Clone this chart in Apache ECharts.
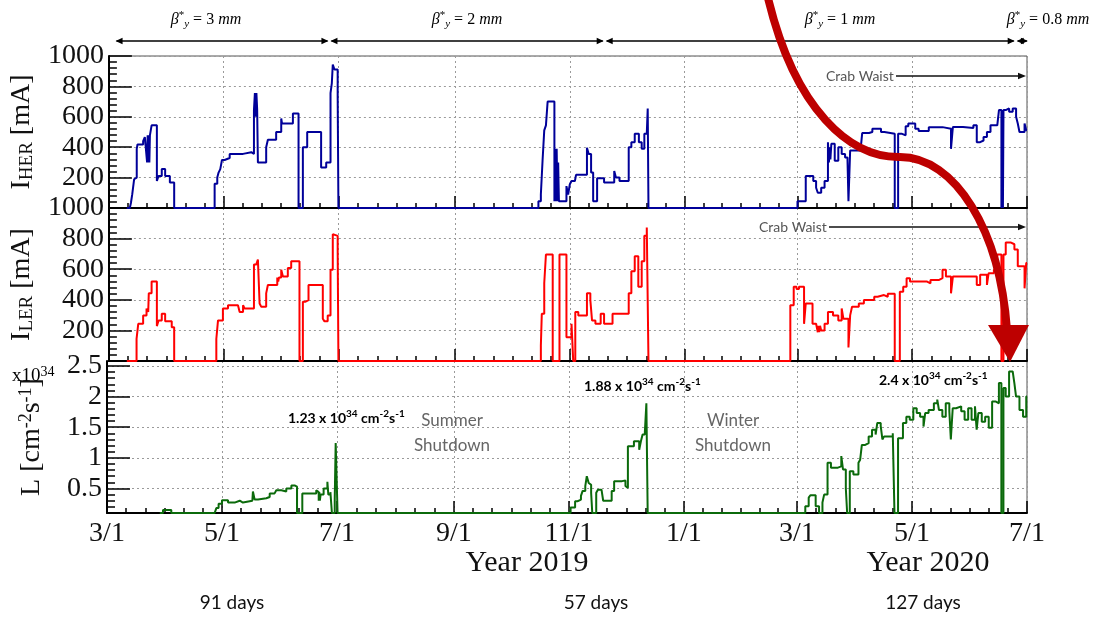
<!DOCTYPE html>
<html><head><meta charset="utf-8">
<script src="https://cdn.jsdelivr.net/npm/echarts@6/dist/echarts.min.js"></script>
<style>html,body{margin:0;padding:0;background:#fff}#c{width:1096px;height:621px}</style>
</head><body><div id="c"></div>
<script>
// ---------------- data (x = days since 2019-03-01) ----------------
const START_DATE = '2019-03-01';
const END_DATE = '2020-07-01';
const majorTickDates = ['2019-03-01','2019-05-01','2019-07-01','2019-09-01','2019-11-01','2020-01-01','2020-03-01','2020-05-01','2020-07-01'];
const lumTickValues = [0.5, 1, 1.5, 2, 2.5];
const LUM_MIN = 0.1, LUM_MAX = 2.58;

const herData = [
 [9.5,0],[11.1,0],[11.7,33],[12.4,89],[13.4,189],[13.9,200],[14.8,389],[15.2,418],[18.2,440],[19.1,467],[20.0,478],[20.3,300],[20.6,478],[20.9,300],[21.2,478],[21.5,300],[21.8,478],[22.7,544],[25.5,178],[26.4,211],[28.1,256],[29.9,211],[32.4,167],[34.7,0],
 [56.2,160],[57.6,200],[58.3,233],[59.2,256],[60.1,316],[61.5,329],[64.2,356],[71.3,367],[75.7,356],[77.1,644],[77.6,756],[78.0,600],[78.4,756],[78.8,650],[79.2,300],[83.6,400],[84.5,449],[88.9,500],[91.6,589],[92.0,556],[97.8,622],[100.8,0],[103.1,400],[105.4,500],[112.8,267],[115.5,300],[117.8,756],[118.5,822],[119.0,944],[119.9,911],[121.6,733],[122.0,0],
 [228.3,44],[229.6,89],[230.5,311],[231.4,511],[232.3,544],[233.2,700],[236.8,44],[237.2,389],[237.6,44],[238.0,389],[238.4,44],[238.8,300],[239.2,44],[243.2,144],[244.1,89],[245.0,156],[245.9,178],[247.7,189],[248.3,218],[254.1,396],[255.0,356],[256.3,233],[257.4,44],[259.5,196],[263.2,167],[268.6,244],[269.5,200],[271.4,178],[276.3,400],[277.7,433],[279.5,489],[281.7,433],[283.2,389],[284.6,489],[285.9,500],[286.4,655],[286.8,0],
 [366.0,44],[370.4,211],[374.4,178],[375.9,133],[376.8,100],[378.6,133],[380.4,178],[382.2,433],[382.7,300],[383.1,400],[383.5,320],[384.0,422],[385.8,311],[387.7,400],[389.5,356],[391.3,333],[392.6,311],[393.1,44],[394.0,378],[399.5,378],[400.4,493],[404.0,500],[405.8,522],[408.6,522],[410.4,500],[412.2,489],[417.7,0],[419.5,489],[421.3,478],[423.5,538],[424.9,556],[428.6,522],[430.4,507],[435.8,532],[443.1,522],[447.6,389],[448.6,533],[454.0,527],[459.5,544],[461.3,433],[463.1,444],[464.9,467],[466.7,500],[468.6,544],[472.2,556],[473.1,644],[474.4,0],[474.8,644],[475.2,0],[475.5,644],[476.7,655],[478.5,633],[480.4,655],[482.2,600],[483.1,556],[484.0,500],[486.7,556],[487.6,511],[488,511]
];

const lerData = [
 [9.5,0],[14.7,144],[15.6,243],[18.2,298],[20.0,343],[20.3,320],[20.6,343],[20.9,320],[21.2,442],[22.7,519],[25.5,228],[26.4,265],[28.1,309],[29.9,259],[33.4,221],[34.7,0],
 [57.1,144],[58.0,265],[60.6,343],[63.3,365],[68.6,354],[69.5,320],[71.3,365],[72.1,343],[77.1,630],[78.3,641],[79.2,663],[80.1,376],[81.0,354],[83.6,442],[84.5,497],[89.5,546],[90.0,520],[90.4,546],[91.6,597],[92.5,552],[95.1,608],[96.9,652],[101.3,0],[103.1,387],[104.3,398],[106.1,497],[113.7,276],[114.6,259],[116.3,298],[117.8,597],[119.0,829],[119.9,818],[121.6,718],[122.0,0],
 [229.6,100],[230.1,309],[231.4,508],[232.3,696],[235.9,0],[239.5,696],[243.2,155],[245.9,243],[246.8,0],[247.9,320],[249.5,298],[254.1,442],[255.9,398],[256.8,265],[258.6,243],[261.4,309],[263.2,243],[267.7,309],[276.3,442],[277.7,586],[279.5,685],[281.4,486],[283.2,652],[284.6,818],[285.9,873],[286.8,0],
 [362.2,365],[364.0,486],[365.5,470],[366.8,486],[369.5,243],[370.4,376],[374.0,243],[375.9,232],[376.8,188],[377.2,230],[377.6,188],[378.0,230],[378.6,199],[380.4,243],[382.2,320],[384.9,298],[387.7,265],[389.5,343],[390.4,276],[393.1,88],[394.0,298],[395.0,354],[398.6,376],[401.3,398],[405.0,398],[406.8,420],[408.6,431],[412.0,420],[414.0,440],[417.7,0],[420.4,453],[422.2,486],[424.0,541],[425.8,519],[434.9,508],[436.7,530],[441.3,541],[443.1,597],[444.9,552],[447.6,442],[448.6,552],[455.8,552],[461.3,497],[463.1,563],[466.7,497],[467.6,574],[470.4,597],[472.2,696],[474.4,0],[475.5,696],[476.7,774],[479.5,763],[481.3,729],[483.1,619],[486.7,475],[487.6,641],[488,641]
];

const lumData = [
 [28,0],[29.7,0.15],[34.1,0],
 [57.1,0.12],[58.0,0.18],[59.2,0.25],[61.0,0.31],[64.2,0.27],[67.7,0.30],[70.4,0.27],[72.1,0.30],[77.1,0.31],[77.4,0.45],[78.3,0.32],[80.1,0.34],[84.5,0.36],[86.3,0.42],[88.9,0.44],[89.8,0.47],[92.5,0.45],[95.1,0.50],[97.8,0.55],[99.5,0.53],[100.8,0],[103.6,0.42],[111.0,0.47],[111.9,0.44],[112.3,0.30],[112.6,0.44],[112.9,0.30],[113.3,0.40],[114.9,0.50],[116.9,0.61],[117.4,0.40],[118.5,0.44],[119.3,0.1],[120.8,0.33],[121.3,1.24],[122.3,0],
 [245.9,0.19],[248.3,0.29],[249.5,0.32],[251.4,0.38],[252.3,0.46],[253.7,0.54],[254.5,0.70],[255.5,0.59],[256.3,0.56],[256.8,0.43],[257.4,0],[259.5,0.43],[260.4,0.48],[262.3,0.46],[263.2,0.30],[267.7,0.46],[269.0,0.62],[270.4,0.59],[271.4,0.62],[273.2,0.63],[275.0,0.54],[275.9,0.51],[276.3,1.19],[279.5,1.27],[282.3,1.13],[283.2,1.27],[284.1,1.38],[285.3,1.42],[286.1,1.89],[286.8,0],
 [370.4,0.21],[372.2,0.35],[373.1,0.39],[375.9,0.21],[377.7,0],[379.5,0.27],[380.4,0.40],[382.2,0.92],[384.0,0.84],[387.7,0.86],[389.5,1.03],[390.4,0.81],[391.9,0.5],[392.6,0],[394.0,0.78],[395.9,0.73],[398.6,0.92],[399.5,0.97],[400.4,1.21],[402.2,1.24],[404.0,1.35],[405.8,1.46],[407.7,1.38],[408.6,1.57],[410.4,1.52],[411.3,1.30],[412.2,1.35],[416.8,1.40],[417.7,0],[419.6,1.32],[422.2,1.57],[424.0,1.67],[425.8,1.62],[427.7,1.81],[429.5,1.73],[431.3,1.67],[433.1,1.51],[434.0,1.73],[435.8,1.78],[438.6,1.89],[440.4,1.95],[441.3,1.78],[443.1,1.67],[444.9,1.89],[446.8,1.76],[447.6,1.30],[448.6,1.81],[450.4,1.84],[453.1,1.76],[454.9,1.62],[456.8,1.81],[458.6,1.62],[460.4,1.84],[461.3,1.46],[462.2,1.73],[464.0,1.59],[465.8,1.67],[467.7,1.49],[469.5,1.92],[471.3,1.89],[473.1,2.22],[474.4,0],[475.5,2.14],[476.7,2.00],[478.5,2.41],[480.4,2.38],[481.3,2.22],[482.2,2.00],[484.0,1.78],[485.9,1.67],[487.6,2.00],[488,2.00]
];

const betaBoundDates = ['2019-03-05','2019-06-27','2019-11-20','2020-06-25','2020-07-02'];
const betaLabels = ['3', '2', '1', '0.8'];
const peakLabels = ['1.23', '1.88', '2.4'];
const dayCounts = ['91 days', '57 days', '127 days'];
const yearLabels = ['Year 2019', 'Year 2020'];

// ---------------- helpers ----------------
const DAY = 86400000;
function utc(s){ const p = s.split('-').map(Number); return Date.UTC(p[0], p[1]-1, p[2]); }
const T0 = utc(START_DATE);
function dayOf(s){ return (utc(s) - T0) / DAY; }
const X_MAX = dayOf(END_DATE);
const majorTicks = majorTickDates.map(dayOf);
const minorTicks = [];
for (let i = 0; i < majorTicks.length - 1; i++) {
  for (let k = 1; k < 6; k++) minorTicks.push(majorTicks[i] + k * (majorTicks[i+1] - majorTicks[i]) / 6);
}
const lumMinorTicks = [];
for (let k = 2; k <= 25; k++) if (k % 5) lumMinorTicks.push(k / 10);
function fmtDay(v){ const d = new Date(T0 + Math.round(v) * DAY); return (d.getUTCMonth()+1) + '/' + d.getUTCDate(); }

const SERIF = "'Liberation Serif','DejaVu Serif',serif";
const SANS = "Lato,'Noto Sans',sans-serif";
const GRID_LINE = {show:true, lineStyle:{color:'#9a9a9a', width:1, type:[2,3]}};
const GRID_LEFT = 107, GRID_RIGHT = 69, CHART_W = 1096;
const GRID_W = CHART_W - GRID_LEFT - GRID_RIGHT;

function xMain(g, showLabel){
  return {type:'value', gridIndex:g, min:0, max:X_MAX, position:'bottom',
    axisLine:{show:true, onZero:false, lineStyle:{color:'#000', width:2}},
    axisTick:{show:true, inside:true, length:12, customValues:majorTicks, lineStyle:{color:'#000', width:1.5}},
    axisLabel:{show:showLabel, customValues:majorTicks, formatter:fmtDay, fontFamily:SERIF, fontSize:28, color:'#111', margin:7},
    splitLine:GRID_LINE};
}
function xMinor(g){
  return {type:'value', gridIndex:g, min:0, max:X_MAX, position:'bottom',
    axisLine:{show:false}, axisTick:{show:true, inside:true, length:5, customValues:minorTicks, lineStyle:{color:'#000', width:1.5}},
    axisLabel:{show:false}, splitLine:{show:false}};
}
const nameRich = {
  m:{fontFamily:SERIF, fontSize:28, lineHeight:30, verticalAlign:'middle', color:'#111'},
  s:{fontFamily:SERIF, fontSize:19, lineHeight:14, verticalAlign:'bottom', color:'#111'},
  p:{fontFamily:SERIF, fontSize:18, lineHeight:14, verticalAlign:'top', color:'#111'}
};
function yCurrent(g, name){
  return {type:'value', gridIndex:g, min:0, max:1000, interval:200, position:'left',
    axisLine:{show:true, onZero:false, lineStyle:{color:'#000', width:2}},
    axisTick:{show:true, inside:true, length:23, lineStyle:{color:'#000', width:1.5}},
    minorTick:{show:true, splitNumber:5, length:8, lineStyle:{color:'#000', width:1.5}},
    axisLabel:{showMinLabel:false, formatter:v => String(v), fontFamily:SERIF, fontSize:28, color:'#111', margin:5},
    splitLine:GRID_LINE,
    name:name, nameLocation:'middle', nameRotate:90, nameGap:69, nameTextStyle:{rich:nameRich}};
}

// ---------------- annotations (graphic layer) ----------------
function xp(day){ return GRID_LEFT + day / X_MAX * GRID_W; }
function head(x, y, dir, len, half, color){
  const b = x - dir * len;
  return {type:'polygon', silent:true, z:50, shape:{points:[[x,y],[b,y-half],[b,y+half]]}, style:{fill:color}};
}
const g = [];
const AY = 41;
const bx = betaBoundDates.map(s => xp(dayOf(s)));
for (let i = 0; i < bx.length - 1; i++) {
  g.push({type:'line', silent:true, z:50, shape:{x1:bx[i]+2, y1:AY, x2:bx[i+1]-2, y2:AY}, style:{stroke:'#000', lineWidth:1.3}});
  g.push(head(bx[i]+1, AY, -1, 7, 3.2, '#000'));
  g.push(head(bx[i+1]-1, AY, 1, 7, 3.2, '#000'));
}
const betaRich = {
  g:{fontFamily:SERIF, fontStyle:'italic', fontSize:16, lineHeight:20, verticalAlign:'middle', color:'#111'},
  sp:{fontFamily:SERIF, fontSize:11, lineHeight:10, verticalAlign:'top', color:'#111'},
  sb:{fontFamily:SERIF, fontStyle:'italic', fontSize:11, lineHeight:10, verticalAlign:'bottom', color:'#111'},
  t:{fontFamily:SERIF, fontSize:16, lineHeight:20, verticalAlign:'middle', color:'#111'},
  i:{fontFamily:SERIF, fontStyle:'italic', fontSize:16, lineHeight:20, verticalAlign:'middle', color:'#111'}
};
const betaX = [206, 467, 840, 1048];
betaLabels.forEach((v, i) => {
  g.push({type:'text', silent:true, z:50, x:betaX[i], y:20, style:{text:'{g|β}{sp|*}{sb|y}{t| = ' + v + ' }{i|mm}', rich:betaRich, align:'center', verticalAlign:'middle'}});
});
[[826, 76], [759, 227]].forEach(([x, y]) => {
  g.push({type:'text', silent:true, z:50, x:x, y:y, style:{text:'Crab Waist', fontFamily:SANS, fontSize:14, fill:'#555', align:'left', verticalAlign:'middle'}});
  g.push({type:'line', silent:true, z:50, shape:{x1:x+70, y1:y, x2:1020, y2:y}, style:{stroke:'#111', lineWidth:1.3}});
  g.push(head(1026, y, 1, 8, 3.2, '#111'));
});
const peakRich = {
  b:{fontFamily:SANS, fontWeight:'bold', fontSize:14, lineHeight:18, verticalAlign:'middle', color:'#111'},
  u:{fontFamily:SANS, fontWeight:'bold', fontSize:10, lineHeight:10, verticalAlign:'top', color:'#111'}
};
const peakPos = [[288, 418], [584, 386], [879, 380]];
peakLabels.forEach((v, i) => {
  g.push({type:'text', silent:true, z:50, x:peakPos[i][0], y:peakPos[i][1], style:{text:'{b|' + v + ' x 10}{u|34}{b| cm}{u|-2}{b|s}{u|-1}', rich:peakRich, align:'left', verticalAlign:'middle'}});
});
[['Summer', 452], ['Winter', 733]].forEach(([t, x]) => {
  g.push({type:'text', silent:true, z:50, x:x, y:421, style:{text:t, fontFamily:SANS, fontSize:17, fill:'#666', align:'center', verticalAlign:'middle'}});
  g.push({type:'text', silent:true, z:50, x:x, y:446, style:{text:'Shutdown', fontFamily:SANS, fontSize:17, fill:'#666', align:'center', verticalAlign:'middle'}});
});
g.push({type:'text', silent:true, z:50, x:12, y:376, style:{text:'{a|x10}{b|34}', rich:{a:{fontFamily:SERIF, fontSize:19, lineHeight:22, verticalAlign:'middle', color:'#111'}, b:{fontFamily:SERIF, fontSize:14, lineHeight:12, verticalAlign:'top', color:'#111'}}, align:'left', verticalAlign:'middle'}});
[[527, 563], [928, 563]].forEach(([x, y], i) => {
  g.push({type:'text', silent:true, z:50, x:x, y:y, style:{text:yearLabels[i], fontFamily:SERIF, fontSize:30, fill:'#111', align:'center', verticalAlign:'middle'}});
});
[[232, 603], [596, 603], [923, 603]].forEach(([x, y], i) => {
  g.push({type:'text', silent:true, z:50, x:x, y:y, style:{text:dayCounts[i], fontFamily:SANS, fontSize:19, fill:'#111', align:'center', verticalAlign:'middle'}});
});
// big red arrow
g.push({type:'bezierCurve', silent:true, z:100, shape:{x1:768, y1:-2, cpx1:795, cpy1:110, cpx2:850, cpy2:158, x2:900, y2:157}, style:{fill:null, stroke:'#bd0000', lineWidth:8}});
g.push({type:'bezierCurve', silent:true, z:100, shape:{x1:900, y1:157, cpx1:955, cpy1:157, cpx2:1000, cpy2:230, x2:1007, y2:330}, style:{fill:null, stroke:'#bd0000', lineWidth:8}});
g.push({type:'polygon', silent:true, z:100, shape:{points:[[988,325],[1029,325],[1010,362]]}, style:{fill:'#bd0000'}});

const option = {
  animation:false,
  grid:[
    {left:GRID_LEFT, right:GRID_RIGHT, top:56, height:152, show:true, borderColor:'#555', borderWidth:1},
    {left:GRID_LEFT, right:GRID_RIGHT, top:208, height:153, show:true, borderColor:'#555', borderWidth:1},
    {left:GRID_LEFT, right:GRID_RIGHT, top:361, height:152, show:true, borderColor:'#555', borderWidth:1}
  ],
  xAxis:[xMain(0,false), xMinor(0), xMain(1,false), xMinor(1), xMain(2,true), xMinor(2)],
  yAxis:[
    yCurrent(0, '{m|I}{s|HER}{m| [mA]}'),
    yCurrent(1, '{m|I}{s|LER}{m| [mA]}'),
    {type:'value', gridIndex:2, min:LUM_MIN, max:LUM_MAX, position:'left',
      axisLine:{show:true, onZero:false, lineStyle:{color:'#000', width:2}},
      axisTick:{show:true, inside:true, length:23, customValues:lumTickValues, lineStyle:{color:'#000', width:1.5}},
      axisLabel:{customValues:lumTickValues, formatter:v => String(+(+v).toFixed(1)), fontFamily:SERIF, fontSize:28, color:'#111', margin:5},
      splitLine:GRID_LINE,
      name:'{m|L [cm}{p|-2}{m|s}{p|-1}{m|]}', nameLocation:'middle', nameRotate:90, nameGap:60, nameTextStyle:{rich:nameRich}},
    {type:'value', gridIndex:2, min:LUM_MIN, max:LUM_MAX, position:'left',
      axisLine:{show:false}, axisTick:{show:true, inside:true, length:8, customValues:lumMinorTicks, lineStyle:{color:'#000', width:1.5}},
      axisLabel:{show:false}, splitLine:{show:false}}
  ],
  series:[
    {type:'line', name:'HER', xAxisIndex:0, yAxisIndex:0, data:herData, step:'end', symbol:'none', clip:false,
      lineStyle:{color:'#000099', width:2}},
    {type:'line', name:'LER', xAxisIndex:2, yAxisIndex:1, data:lerData, step:'end', symbol:'none', clip:false,
      lineStyle:{color:'#ff0000', width:2}},
    {type:'line', name:'Lumi', xAxisIndex:4, yAxisIndex:2, data:lumData.map(p => [p[0], Math.max(p[1], LUM_MIN)]), step:'end', symbol:'none', clip:false,
      lineStyle:{color:'#0b6a0b', width:2}}
  ],
  graphic:g
};

const chart = echarts.init(document.getElementById('c'));
chart.setOption(option);
</script>
</body></html>
